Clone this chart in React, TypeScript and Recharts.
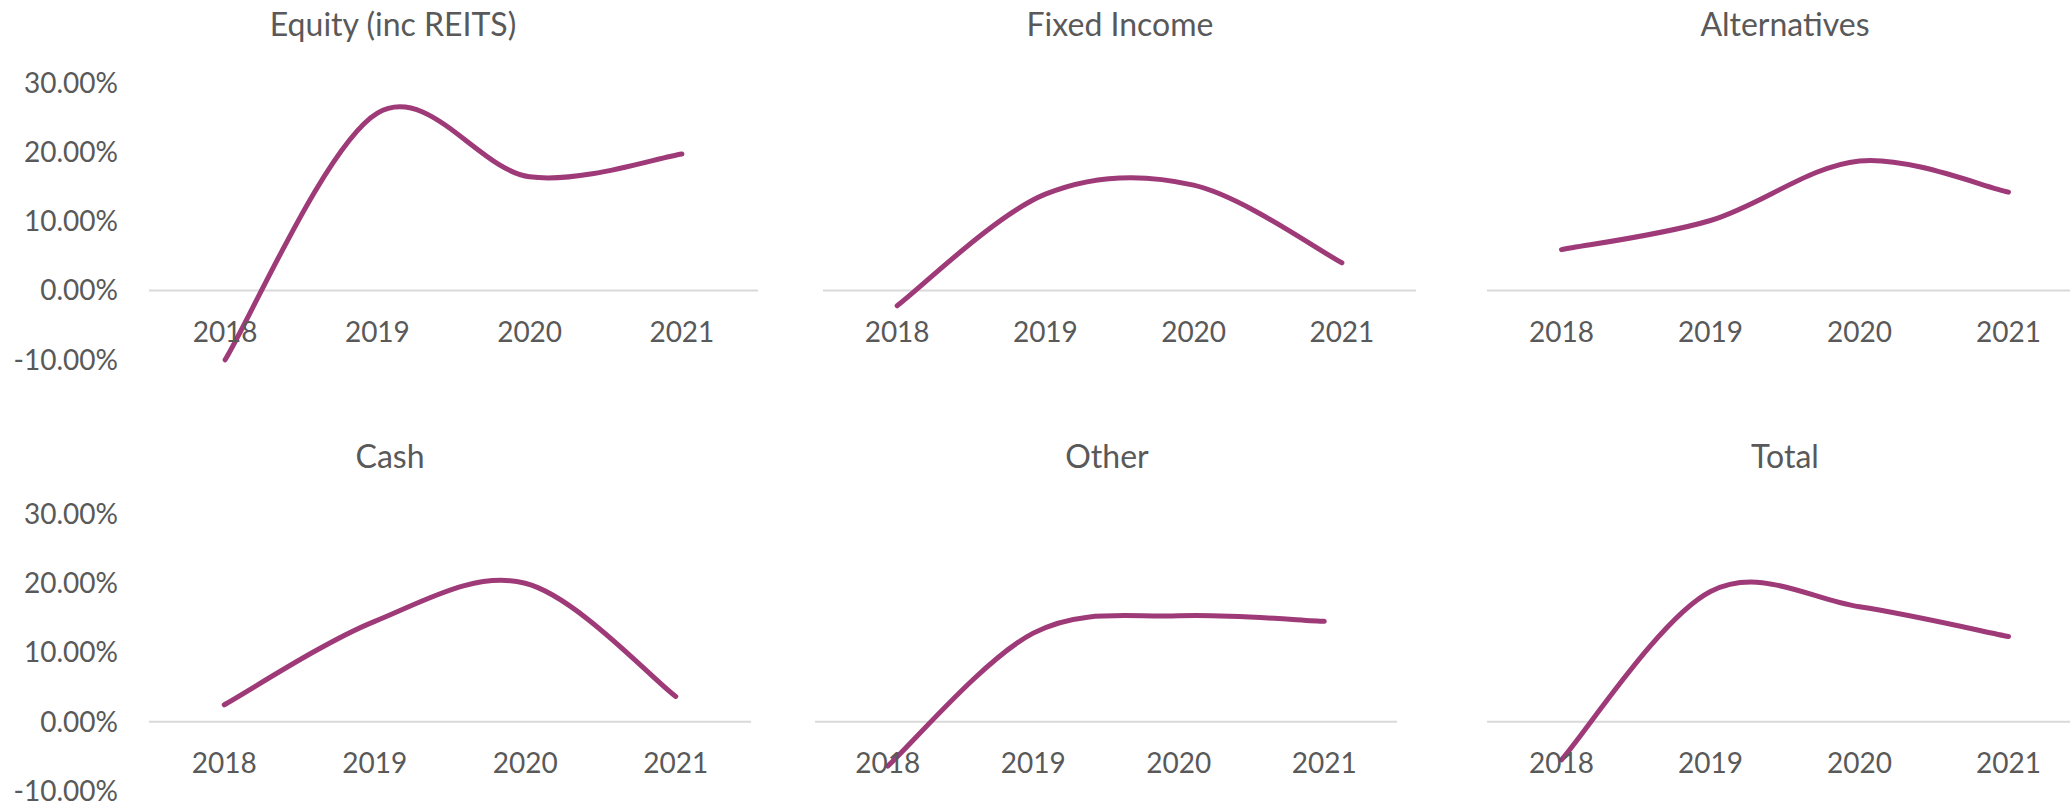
import React from "react"
import { LineChart, Line, XAxis, YAxis, ReferenceLine } from "recharts"

// years on the category axis
const years = ["2018", "2019", "2020", "2021"]

// annual returns per asset class (fractions)
const equity = [-0.1, 0.256, 0.164, 0.197]
const fixedIncome = [-0.022, 0.139, 0.152, 0.04]
const alternatives = [0.059, 0.101, 0.187, 0.142]
const cash = [0.0245, 0.145, 0.2, 0.0365]
const other = [-0.064, 0.128, 0.153, 0.145]
const total = [-0.055, 0.188, 0.166, 0.123]

const yTicks = [-0.1, 0, 0.1, 0.2, 0.3]

const LINE = "#9E3A78"
const TEXT = "#595959"
const FONT = "Lato, 'Open Sans', sans-serif"

// Excel style smoothing: catmull-rom bezier segments, ends duplicated
function excelSmooth(context: any) {
  let pts: [number, number][] = []
  return {
    areaStart() {},
    areaEnd() {},
    lineStart() {
      pts = []
    },
    point(x: number, y: number) {
      pts.push([+x, +y])
    },
    lineEnd() {
      if (!pts.length) return
      context.moveTo(pts[0][0], pts[0][1])
      for (let i = 0; i < pts.length - 1; i++) {
        const p0 = pts[Math.max(i - 1, 0)]
        const p1 = pts[i]
        const p2 = pts[i + 1]
        const p3 = pts[Math.min(i + 2, pts.length - 1)]
        context.bezierCurveTo(
          p1[0] + (p2[0] - p0[0]) / 6,
          p1[1] + (p2[1] - p0[1]) / 6,
          p2[0] - (p3[0] - p1[0]) / 6,
          p2[1] - (p3[1] - p1[1]) / 6,
          p2[0],
          p2[1]
        )
      }
    },
  }
}

const pct = (v: number) => `${(v * 100).toFixed(2)}%`

type PanelProps = {
  values: number[]
  left: number
  top: number
  width: number
  height: number
  margin: { top: number; right: number; bottom: number; left: number }
  showY: boolean
}

function Panel({ values, left, top, width, height, margin, showY }: PanelProps) {
  const data = years.map((year, i) => ({ year, value: values[i] }))
  return (
    <div style={{ position: "absolute", left, top, width, height }}>
      <LineChart width={width} height={height} data={data} margin={margin}>
        <XAxis
          dataKey="year"
          scale="band"
          height={10}
          axisLine={false}
          tickLine={false}
          tickSize={0}
          tickMargin={-38}
          interval={0}
          tick={{ fontSize: 28, fill: TEXT, fontFamily: FONT }}
        />
        <YAxis
          hide={!showY}
          width={149}
          domain={[-0.1, 0.3]}
          ticks={yTicks}
          interval={0}
          tickFormatter={pct}
          axisLine={false}
          tickLine={false}
          tickSize={0}
          tickMargin={31}
          tick={{ fontSize: 28, fill: TEXT, fontFamily: FONT }}
        />
        <ReferenceLine y={0} stroke="#D9D9D9" strokeWidth={2} />
        <Line
          dataKey="value"
          type={excelSmooth as any}
          stroke={LINE}
          strokeWidth={5}
          strokeLinecap="round"
          dot={false}
          activeDot={false}
          isAnimationActive={false}
        />
      </LineChart>
    </div>
  )
}

const titles = [
  { text: "Equity (inc REITS)", x: 393, y: 36 },
  { text: "Fixed Income", x: 1120, y: 36 },
  { text: "Alternatives", x: 1785, y: 36 },
  { text: "Cash", x: 390, y: 468 },
  { text: "Other", x: 1107, y: 468 },
  { text: "Total", x: 1785, y: 468 },
]

export default function App() {
  const row1 = { top: 0, height: 400 }
  const row2 = { top: 432, height: 373 }
  return (
    <div
      style={{
        position: "absolute",
        left: 0,
        top: 0,
        width: 2070,
        height: 805,
        overflow: "hidden",
        background: "#fff",
        fontFamily: FONT,
      }}
    >
      <Panel values={equity} left={0} width={780} {...row1} showY
        margin={{ top: 82.6, right: 22, bottom: 30.2, left: 0 }} />
      <Panel values={fixedIncome} left={790} width={650} {...row1} showY={false}
        margin={{ top: 82.6, right: 24, bottom: 30.2, left: 33 }} />
      <Panel values={alternatives} left={1450} width={640} {...row1} showY={false}
        margin={{ top: 82.6, right: 7, bottom: 30.2, left: 37 }} />

      <Panel values={cash} left={0} width={780} {...row2} showY
        margin={{ top: 82, right: 29, bottom: 4, left: 0 }} />
      <Panel values={other} left={790} width={650} {...row2} showY={false}
        margin={{ top: 82, right: 43, bottom: 4, left: 25 }} />
      <Panel values={total} left={1450} width={640} {...row2} showY={false}
        margin={{ top: 82, right: 7, bottom: 4, left: 37 }} />

      <svg width={2070} height={805} style={{ position: "absolute", left: 0, top: 0, pointerEvents: "none" }}>
        {titles.map((t) => (
          <text key={t.text} x={t.x} y={t.y} textAnchor="middle" fontSize={32} fill={TEXT} fontFamily={FONT}>
            {t.text}
          </text>
        ))}
      </svg>
    </div>
  )
}
